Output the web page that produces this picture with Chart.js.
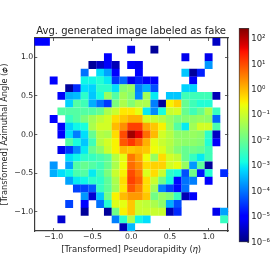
<!DOCTYPE html>
<html><head><meta charset="utf-8">
<script src="https://cdn.jsdelivr.net/npm/chart.js@4"></script>
<style>
html,body{margin:0;padding:0;background:#fff;width:277px;height:277px;overflow:hidden}
canvas{position:absolute;top:0;filter:blur(0.35px)}
</style></head><body>
<canvas id="main" width="277" height="277" style="left:0;width:277px;height:277px"></canvas>
<canvas id="bar" width="45" height="277" style="left:232px;width:45px;height:277px"></canvas>
<script>
// log10 of the average value per bin; _ = empty bin. Rows run from phi=+1.2 (top) to phi=-1.2.
const _ = null;
const r00=[-5,-5,_,_,_,_,_,_,_,_,_,_,_,_,_,_,_,_,_,_,_,_,_,-5.5,_];
const r01=[_,_,_,_,_,_,_,_,_,_,_,_,-5.2,_,_,-5.8,_,_,_,_,_,_,_,_,_];
const r02=[_,_,_,_,_,_,_,_,_,-5,_,_,_,_,_,_,_,_,_,-5.2,_,_,-5.2,_,_];
const r03=[_,_,_,_,_,_,_,-5.8,-5.5,-5.1,-5.6,_,-5.1,-5.2,_,_,_,_,_,_,_,_,-3.7,_,_];
const r04=[_,_,_,_,_,_,-4,_,-3.1,-3.6,-5,_,_,-5,_,_,_,_,_,-3.3,-5.8,-4.7,_,_,_];
const r05=[_,_,-5,_,_,_,-2.9,-2.9,-2.7,-3,-4.5,-4.1,-5.2,-4.7,-5.1,-5.1,_,_,_,_,-5.1,_,_,_,_];
const r06=[_,_,_,_,-5.8,-4.6,-3.1,-3.2,-2.6,-2.6,-3.1,-1.7,-1.5,-3.9,-3.5,-4.3,_,_,_,-3.2,-3.2,_,_,_,_];
const r07=[_,_,_,-5.1,-3.5,-3.4,-2.6,-3.3,-2.8,-1.5,-2.2,-1.4,-1.7,-3.8,-1.4,-3,_,-3.3,-3.3,-2.4,-2.4,-2.4,-2.4,-5.6,_];
const r08=[_,_,_,_,-3.2,-2.2,-2.4,-3.5,-4,-4.5,-1.8,-1.3,-1.7,-1.3,-1.3,-3.9,-5.8,-0.5,-0.2,-2,-2.4,-2.7,-2.7,_,_];
const r09=[_,_,_,-2.2,-2.2,-2.2,-2.2,-2.2,-2,-1.3,-1,-0.4,-0.4,-0.7,-3,-3.8,-2.8,-1,-0.9,-2,-2.4,-2,-1.3,-2.5,_];
const r10=[_,_,-5,_,-2.5,-2.2,-1.8,-1.4,-1.1,-0.9,-0.3,-0.1,0.1,0.1,-0.9,-1,-1.2,-1.5,-1.8,-1.7,-1.6,-1.5,-1.6,-4.1,_];
const r11=[_,_,_,-5.1,-3.2,-2.9,-2.8,-1.3,-0.9,-0.9,0,0.4,1.1,1.1,0.2,-0.1,-0.5,-1.4,-2.2,-3,-1.4,-0.9,-0.9,-2.3,_];
const r12=[_,_,_,-5,-3.1,-3.9,-3.1,-2,-1.2,-1.3,-0.3,1,2.2,1.7,0.7,0,-0.9,-1.2,-1.6,-1.6,-1.5,-1.6,-2.6,-5.5,_];
const r13=[_,_,_,_,-2.2,-2.8,-3.3,-2.4,-1.2,-0.9,-0.5,0.9,1.2,0.8,0.1,-0.7,-1,-1.2,-1.5,-1.6,-1.6,-1.7,-2.7,-5.1,_];
const r14=[_,_,_,-5.2,-4.5,-3.8,-3,-2,-1.6,-1,-0.5,0,-0.1,0,-0.1,-0.6,-0.8,-1.3,-1.7,-2,-1.9,-2,-2.4,_,_];
const r15=[_,_,_,_,-3.1,-2.9,-2.6,-2.5,-2.3,-2.1,-1.2,-0.7,0.6,0.2,-0.6,-1.5,-0.3,-0.9,-1.1,-2,-2.5,-3,-2.4,_,_];
const r16=[_,_,-3.7,_,-3.6,-2.2,-2,-2.2,-2.4,-2,-1.3,-0.6,0.7,0.4,-0.3,-0.2,-0.2,-0.9,-0.7,-1.5,-3.7,-2.1,-5.8,_,_];
const r17=[_,_,-3.5,-3.1,-2.9,-2.3,-2.2,-3,-2.4,-1.8,-1,-0.5,1,0.6,-0.8,-0.3,-1,-2.6,-2.8,-4.3,-1.9,-4.8,-2.7,_,-4.6];
const r18=[_,_,_,_,-3.6,-3,-2.9,-2.6,-2.6,-2.1,-1.3,-0.3,1.1,0.8,-0.3,-1,-1.9,-2.8,-4.9,-4,-3.9,_,-5,_,_];
const r19=[_,_,_,_,_,-4.4,-4.4,-4.2,-2.5,-2.1,-1.4,-0.4,0.9,0.5,-0.3,-1.4,-3.9,-4.4,-4.9,-4,_,_,_,_,_];
const r20=[_,_,_,_,_,_,-3.7,-5.4,-3.3,-1.9,-0.5,0,0.3,0.3,-0.1,-1.9,-1.5,-1.7,-2.5,-5.6,-5.1,_,_,_,_];
const r21=[_,_,_,_,-4.4,_,-5,_,-4,-2.7,-0.8,-0.7,-0.1,-1,-1.1,-1.3,-1.6,-3.5,-4.3,_,_,_,_,_,_];
const r22=[_,_,_,_,_,_,-5.8,_,_,-5.8,-1.9,-0.5,-0.1,-1,-1,-1,-1,-5.6,-4.6,_,_,_,_,-5.2,-3.6];
const r23=[_,_,_,-5.4,_,_,_,_,_,_,-3.9,-2.6,-1.3,-2.9,-3.1,_,_,_,_,_,_,_,_,_,-2.5];
const r24=[_,_,_,_,_,_,_,_,_,_,_,-5.6,-3.4,_,_,_,_,_,_,_,_,_,_,_,_];
const rows=[r00,r01,r02,r03,r04,r05,r06,r07,r08,r09,r10,r11,r12,r13,r14,r15,r16,r17,r18,r19,r20,r21,r22,r23,r24];
const etaCenters=[-1.2,-1.1,-1,-0.9,-0.8,-0.7,-0.6,-0.5,-0.4,-0.3,-0.2,-0.1,0,0.1,0.2,0.3,0.4,0.5,0.6,0.7,0.8,0.9,1,1.1,1.2];
const phiCenters=[1.2,1.1,1,0.9,0.8,0.7,0.6,0.5,0.4,0.3,0.2,0.1,0,-0.1,-0.2,-0.3,-0.4,-0.5,-0.6,-0.7,-0.8,-0.9,-1,-1.1,-1.2];
const axisTicks=[-1,-0.5,0,0.5,1];
const axisLimit=[-1.25,1.25];
const cbLimit=[1e-6,270];
const cbTicks=[1e-6,1e-5,1e-4,1e-3,1e-2,1e-1,1,10,100];
const cbLabels=['10⁻⁶','10⁻⁵','10⁻⁴','10⁻³','10⁻²','10⁻¹','10⁰','10¹','10²'];
const titleText='Avg. generated image labeled as fake';
const xTitle='[Transformed] Pseudorapidity (𝜂)';
const yTitle='[Transformed] Azimuthal Angle (𝜙)';

const FONT='"DejaVu Sans"';
const INK='#262626', FRAME='#3c3c3c';
function seg(t,p){for(let i=1;i<p.length;i++){if(t<=p[i][0]){const a=p[i-1],b=p[i];return a[1]+(b[1]-a[1])*(t-a[0])/(b[0]-a[0]);}}return p[p.length-1][1];}
function jet(t){t=Math.max(0,Math.min(1,t));
 const r=seg(t,[[0,0],[.35,0],[.66,1],[.89,1],[1,.5]]),
 g=seg(t,[[0,0],[.125,0],[.375,1],[.64,1],[.91,0],[1,0]]),
 b=seg(t,[[0,.5],[.11,1],[.34,1],[.65,0],[1,0]]);
 return `rgb(${Math.round(r*255)},${Math.round(g*255)},${Math.round(b*255)})`;}
const lo=Math.log10(cbLimit[0]),hi=Math.log10(cbLimit[1]);
const points=[];
rows.forEach((row,i)=>row.forEach((v,j)=>{if(v!==null)points.push({x:etaCenters[j],y:phiCenters[i],v});}));
const fmt=v=>(v<0?'−':'')+Math.abs(v).toFixed(1);
const setTicks=s=>{s.ticks=axisTicks.map(v=>({value:v}));};
const gridBase={drawOnChartArea:false,drawTicks:true,tickLength:-3,tickColor:FRAME,tickWidth:.8,color:FRAME,lineWidth:.8};
const border={display:true,color:FRAME,width:1.2};
new Chart(document.getElementById('main'),{
 type:'scatter',
 data:{datasets:[{data:points,clip:0,pointStyle:'rect',borderWidth:0,
   pointRadius:c=>{const a=c.chart.chartArea;return a?(a.width/etaCenters.length+.15)*Math.SQRT1_2:5.5;},
   pointHoverRadius:5.5,
   backgroundColor:c=>c.raw?jet((c.raw.v-lo)/(hi-lo)):'#000'}]},
 options:{responsive:false,animation:false,devicePixelRatio:1,
  layout:{padding:{left:0,right:49,top:0,bottom:0}},
  plugins:{legend:{display:false},tooltip:{enabled:false},
   title:{display:true,fullSize:false,text:titleText,color:INK,font:{family:FONT,size:10,weight:'normal'},padding:{top:25,bottom:1}}},
  scales:{
   x:{type:'linear',position:'bottom',min:axisLimit[0],max:axisLimit[1],afterBuildTicks:setTicks,
      afterFit:s=>{s.height=46;},grid:gridBase,border,
      ticks:{callback:fmt,color:INK,font:{family:FONT,size:7.8},padding:4,maxRotation:0,autoSkip:false},
      title:{display:true,text:xTitle,color:INK,font:{family:FONT,size:8.5},padding:{top:1,bottom:22}}},
   y:{type:'linear',position:'left',min:axisLimit[0],max:axisLimit[1],afterBuildTicks:setTicks,
      afterFit:s=>{s.width=34.3;},grid:gridBase,border,
      ticks:{callback:fmt,color:INK,font:{family:FONT,size:7.8},padding:4,autoSkip:false},
      title:{display:true,text:yTitle,color:INK,font:{family:FONT,size:8.2},padding:0}},
   xTop:{type:'linear',position:'top',min:axisLimit[0],max:axisLimit[1],afterBuildTicks:setTicks,
      afterFit:s=>{s.height=0;},grid:gridBase,border,ticks:{display:false}},
   yRight:{type:'linear',position:'right',min:axisLimit[0],max:axisLimit[1],afterBuildTicks:setTicks,
      afterFit:s=>{s.width=0;},grid:gridBase,border,ticks:{display:false}}
  }}});
new Chart(document.getElementById('bar'),{
 type:'bar',
 data:{labels:['c'],datasets:[{data:[cbLimit],barPercentage:1,categoryPercentage:1,
   borderWidth:1.2,borderColor:FRAME,borderSkipped:false,
   backgroundColor:c=>{const a=c.chart.chartArea;if(!a)return '#888';
     const g=c.chart.ctx.createLinearGradient(0,a.bottom,0,a.top);
     for(let i=0;i<=64;i++)g.addColorStop(i/64,jet(i/64));return g;}}]},
 options:{responsive:false,animation:false,devicePixelRatio:1,
  layout:{padding:{left:6.7,right:0,top:28,bottom:34.7}},
  plugins:{legend:{display:false},tooltip:{enabled:false}},
  scales:{
   x:{display:false},
   y:{type:'logarithmic',position:'right',min:cbLimit[0],max:cbLimit[1],
      afterBuildTicks:s=>{s.ticks=cbTicks.map(v=>({value:v}));},
      afterFit:s=>{s.width=27.7;},
      grid:{...gridBase,tickLength:-2},border:{display:false},
      ticks:{callback:(v,i)=>cbLabels[i],color:INK,font:{family:FONT,size:8.5},padding:4,autoSkip:false}}
  }}});
</script></body></html>
